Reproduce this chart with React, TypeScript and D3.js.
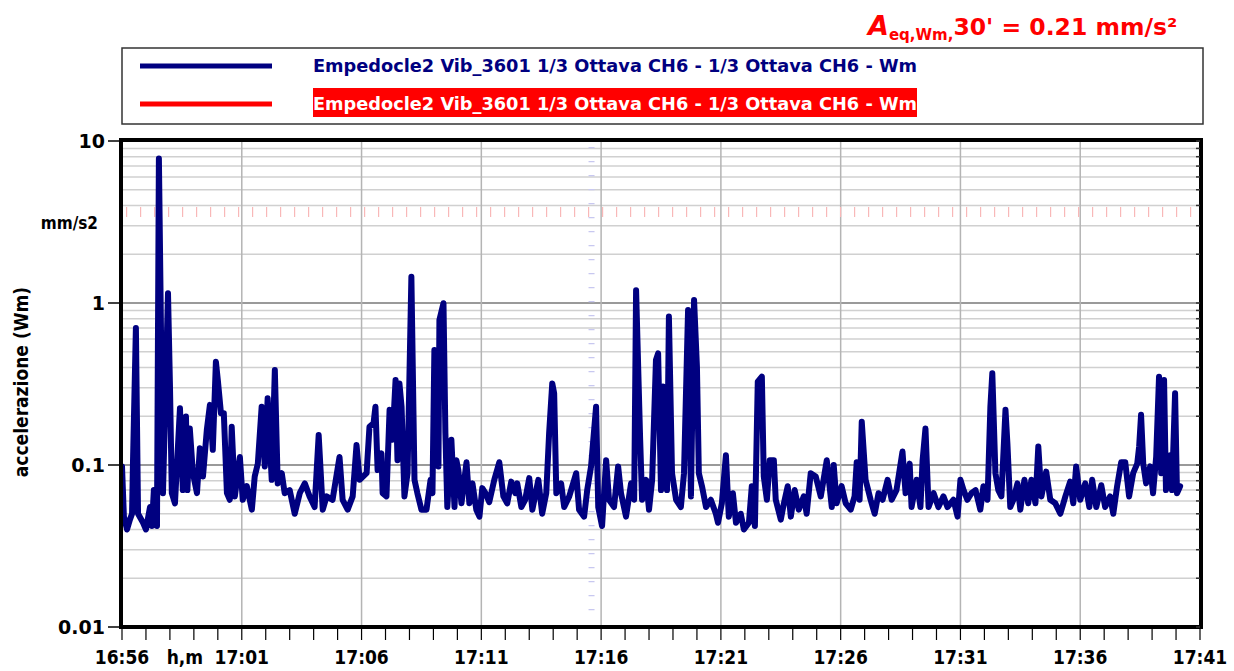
import { useEffect, useRef } from "react";
import * as d3 from "d3";

// minutes elapsed since 16:56
const elapsedMin = [
  0, 0.08, 0.21, 0.33, 0.42, 0.46, 0.58, 0.67, 0.88, 1.0, 1.17, 1.25, 1.33, 1.46, 1.54, 1.71,
  1.92, 2.0, 2.08, 2.21, 2.42, 2.54, 2.67, 2.73, 2.83, 2.96, 3.13, 3.25, 3.38, 3.54, 3.67, 3.79,
  3.92, 4.0, 4.13, 4.25, 4.38, 4.5, 4.58, 4.71, 4.92, 5.04, 5.21, 5.42, 5.54, 5.67, 5.83, 5.96,
  6.08, 6.25, 6.38, 6.5, 6.67, 6.79, 7.0, 7.21, 7.42, 7.63, 7.83, 8.04, 8.21, 8.38, 8.54, 8.79,
  9.08, 9.21, 9.42, 9.63, 9.79, 9.92, 10.21, 10.33, 10.5, 10.58, 10.67, 10.83, 10.88, 11.04,
  11.17, 11.29, 11.42, 11.5, 11.58, 11.67, 11.79, 11.92, 12.08, 12.21, 12.33, 12.5, 12.71,
  12.88, 12.96, 13.04, 13.13, 13.21, 13.25, 13.42, 13.5, 13.58, 13.75, 13.88, 13.96, 14.04,
  14.17, 14.38, 14.5, 14.63, 14.79, 14.92, 15.04, 15.17, 15.33, 15.54, 15.75, 15.92, 16.08,
  16.25, 16.42, 16.5, 16.67, 16.83, 17.0, 17.13, 17.38, 17.54, 17.71, 17.83, 17.96, 18.04,
  18.13, 18.33, 18.46, 18.67, 18.96, 19.08, 19.29, 19.42, 19.58, 19.79, 19.88, 20.04, 20.21,
  20.33, 20.54, 20.71, 20.83, 21.04, 21.25, 21.38, 21.46, 21.63, 21.71, 21.88, 22.0, 22.13,
  22.29, 22.38, 22.5, 22.58, 22.75, 22.83, 22.96, 23.13, 23.33, 23.46, 23.63, 23.75, 23.88,
  24.0, 24.08, 24.21, 24.38, 24.58, 24.79, 24.88, 25.04, 25.21, 25.33, 25.5, 25.63, 25.83,
  25.96, 26.17, 26.29, 26.42, 26.54, 26.71, 26.79, 26.92, 27.04, 27.21, 27.29, 27.5, 27.63,
  27.79, 27.92, 28.08, 28.25, 28.46, 28.58, 28.75, 28.96, 29.17, 29.33, 29.42, 29.63, 29.71,
  29.83, 30.04, 30.21, 30.42, 30.58, 30.67, 30.79, 30.88, 31.04, 31.25, 31.42, 31.58, 31.75,
  31.96, 32.13, 32.33, 32.58, 32.71, 32.88, 32.96, 33.17, 33.33, 33.42, 33.54, 33.67, 33.88,
  34.08, 34.29, 34.46, 34.71, 34.88, 35.0, 35.13, 35.29, 35.46, 35.63, 35.83, 35.96, 36.13,
  36.25, 36.33, 36.46, 36.58, 36.71, 36.88, 36.96, 37.08, 37.21, 37.38, 37.5, 37.67, 37.83,
  37.96, 38.13, 38.25, 38.38, 38.58, 38.75, 38.96, 39.17, 39.38, 39.58, 39.71, 39.83, 40.0,
  40.21, 40.38, 40.5, 40.67, 40.88, 41.04, 41.25, 41.38, 41.54, 41.71, 41.88, 42.04, 42.21,
  42.38, 42.46, 42.54, 42.63, 42.75, 42.92, 43.04, 43.17, 43.29, 43.38, 43.5, 43.58, 43.75,
  43.83, 43.96, 44.04, 44.17,
];

// acceleration, mm/s2 (Wm weighted)
const accel = [
  0.098, 0.048, 0.04, 0.046, 0.05, 0.107, 0.7, 0.05, 0.044, 0.04, 0.055, 0.042, 0.07, 0.042, 7.8, 0.067,
  1.15, 0.32, 0.067, 0.058, 0.224, 0.07, 0.199, 0.07, 0.168, 0.089, 0.067, 0.127, 0.085, 0.164, 0.235, 0.124,
  0.434, 0.335, 0.209, 0.209, 0.067, 0.061, 0.172, 0.064, 0.112, 0.061, 0.074, 0.053, 0.085, 0.102, 0.229, 0.098,
  0.258, 0.081, 0.386, 0.077, 0.089, 0.067, 0.07, 0.05, 0.067, 0.077, 0.064, 0.055, 0.153, 0.053, 0.064, 0.061,
  0.112, 0.061, 0.053, 0.064, 0.133, 0.081, 0.089, 0.172, 0.181, 0.229, 0.093, 0.118, 0.067, 0.064,
  0.219, 0.143, 0.335, 0.107, 0.319, 0.229, 0.064, 0.089, 1.45, 0.081, 0.067, 0.053, 0.053,
  0.081, 0.067, 0.513, 0.489, 0.098, 0.786, 0.996, 0.157, 0.055, 0.143, 0.055, 0.107, 0.093,
  0.058, 0.104, 0.058, 0.077, 0.053, 0.048, 0.072, 0.067, 0.059, 0.081, 0.104, 0.064, 0.058,
  0.079, 0.067, 0.077, 0.055, 0.061, 0.083, 0.053, 0.081, 0.05, 0.067, 0.157, 0.319, 0.277,
  0.067, 0.077, 0.055, 0.064, 0.089, 0.053, 0.048, 0.07, 0.098, 0.229, 0.055, 0.042, 0.107,
  0.061, 0.055, 0.098, 0.067, 0.048, 0.077, 0.061, 1.2, 0.143, 0.061, 0.081, 0.053, 0.081,
  0.445, 0.489, 0.07, 0.305, 0.07, 0.824, 0.089, 0.061, 0.055, 0.089, 0.906, 0.064, 1.045,
  0.404, 0.089, 0.074, 0.055, 0.061, 0.05, 0.044, 0.058, 0.115, 0.048, 0.067, 0.044, 0.05,
  0.04, 0.044, 0.074, 0.042, 0.327, 0.351, 0.085, 0.061, 0.107, 0.107, 0.061, 0.046, 0.058,
  0.074, 0.048, 0.07, 0.053, 0.064, 0.05, 0.089, 0.085, 0.064, 0.089, 0.107, 0.055, 0.1,
  0.058, 0.074, 0.058, 0.053, 0.064, 0.104, 0.061, 0.185, 0.081, 0.061, 0.05, 0.067, 0.061,
  0.081, 0.061, 0.07, 0.121, 0.067, 0.102, 0.055, 0.081, 0.055, 0.107, 0.168, 0.055, 0.067,
  0.055, 0.064, 0.055, 0.061, 0.048, 0.081, 0.07, 0.061, 0.067, 0.07, 0.053, 0.074, 0.061,
  0.229, 0.368, 0.089, 0.07, 0.064, 0.219, 0.136, 0.055, 0.061, 0.077, 0.053, 0.081, 0.058,
  0.081, 0.058, 0.13, 0.064, 0.091, 0.061, 0.058, 0.05, 0.064, 0.079, 0.058, 0.098, 0.061,
  0.077, 0.055, 0.081, 0.055, 0.075, 0.055, 0.064, 0.05, 0.074, 0.104, 0.104, 0.064, 0.089,
  0.102, 0.13, 0.204, 0.102, 0.077, 0.098, 0.067, 0.112, 0.351, 0.089, 0.335, 0.07, 0.115,
  0.07, 0.277, 0.067, 0.074,
];

const yTickValues = [0.01, 0.1, 1, 10];
const yTickLabels = ["0.01", "0.1", "1", "10"];
const thresholdValue = 3.65;
const cursorMin = 19.6;
const seriesLabel = "Empedocle2 Vib_3601 1/3 Ottava CH6 - 1/3 Ottava CH6 - Wm";

const startTime = new Date(2021, 0, 1, 16, 56);
const endTime = new Date(2021, 0, 1, 17, 41);

const FONT = "'DejaVu Sans', sans-serif";
const FONT_C = "'DejaVu Sans Condensed', 'DejaVu Sans', sans-serif";

export default function App() {
  const svgRef = useRef<SVGSVGElement>(null);

  useEffect(() => {
    const svg = d3.select(svgRef.current);
    svg.selectAll("*").remove();

    const width = 1234;
    const height = 671;
    const left = 122;
    const right = 1200;
    const top = 141;
    const bottom = 627;

    svg.attr("width", width).attr("height", height);

    const toDate = (m: number) => new Date(startTime.getTime() + m * 60000);

    const xScale = d3.scaleTime().domain([startTime, endTime]).range([left, right]);
    const yScale = d3.scaleLog().domain([0.01, 10]).range([bottom, top]);

    // legend
    svg.append("rect")
      .attr("x", 122).attr("y", 48).attr("width", 1081).attr("height", 76)
      .attr("fill", "#fff").attr("stroke", "#333").attr("stroke-width", 1.5);

    svg.append("line")
      .attr("x1", 140).attr("x2", 272).attr("y1", 66).attr("y2", 66)
      .attr("stroke", "#000080").attr("stroke-width", 5);
    svg.append("text")
      .attr("x", 313).attr("y", 72)
      .attr("font-family", FONT_C).attr("font-weight", "bold").attr("font-size", 18)
      .attr("fill", "#000080")
      .attr("textLength", 604).attr("lengthAdjust", "spacingAndGlyphs")
      .text(seriesLabel);

    svg.append("line")
      .attr("x1", 140).attr("x2", 272).attr("y1", 104).attr("y2", 104)
      .attr("stroke", "#ff0000").attr("stroke-width", 5);
    svg.append("rect")
      .attr("x", 313).attr("y", 88).attr("width", 604).attr("height", 29)
      .attr("fill", "#ff0000");
    svg.append("text")
      .attr("x", 313).attr("y", 110)
      .attr("font-family", FONT_C).attr("font-weight", "bold").attr("font-size", 18)
      .attr("fill", "#fff")
      .attr("textLength", 604).attr("lengthAdjust", "spacingAndGlyphs")
      .text(seriesLabel);

    // summary annotation
    const ann = svg.append("text")
      .attr("x", 868).attr("y", 35)
      .attr("font-family", FONT).attr("font-weight", "bold")
      .attr("fill", "#ff0000");
    ann.append("tspan").attr("font-size", 27).attr("font-style", "italic").text("A");
    ann.append("tspan").attr("font-size", 15).attr("dy", 5).text("eq,Wm,");
    ann.append("tspan").attr("font-size", 23.5).attr("dy", -5).text("30' = 0.21 mm/s²");

    // grid
    const grid = svg.append("g");
    const logTicks = yScale.ticks();
    grid.selectAll(".hgrid")
      .data(logTicks)
      .join("line")
      .attr("x1", left).attr("x2", right)
      .attr("y1", (d) => yScale(d)).attr("y2", (d) => yScale(d))
      .attr("stroke", (d) => (yTickValues.includes(d) ? "#9a9a9a" : "#d0d0d0"))
      .attr("stroke-width", (d) => (yTickValues.includes(d) ? 2 : 1.5));

    const minuteTicks = xScale.ticks(d3.timeMinute.every(1) as d3.TimeInterval);
    const majorTicks = minuteTicks.filter((_, i) => i % 5 === 0);

    grid.selectAll(".vgrid")
      .data(majorTicks.slice(1, -1))
      .join("line")
      .attr("x1", (d) => xScale(d)).attr("x2", (d) => xScale(d))
      .attr("y1", top).attr("y2", bottom)
      .attr("stroke", "#b4b4b4").attr("stroke-width", 1.5);

    // threshold marks
    const thrY = yScale(thresholdValue);
    svg.append("line")
      .attr("x1", left + 4).attr("x2", right - 4)
      .attr("y1", thrY).attr("y2", thrY)
      .attr("stroke", "#f8b8b8").attr("stroke-width", 10)
      .attr("stroke-dasharray", "1.2 12.8");

    // cursor marks
    const curX = xScale(toDate(cursorMin));
    svg.append("line")
      .attr("x1", curX).attr("x2", curX)
      .attr("y1", top + 6).attr("y2", bottom - 4)
      .attr("stroke", "#c8c8f0").attr("stroke-width", 6)
      .attr("stroke-dasharray", "1.2 12.8");

    // series
    const points = elapsedMin.map((m, i) => ({ t: toDate(m), v: accel[i] }));
    const line = d3.line<{ t: Date; v: number }>()
      .x((d) => xScale(d.t))
      .y((d) => yScale(d.v));

    svg.append("path")
      .datum(points)
      .attr("d", line)
      .attr("fill", "none")
      .attr("stroke", "#000080")
      .attr("stroke-width", 6)
      .attr("stroke-linejoin", "round")
      .attr("stroke-linecap", "round");

    // frame
    svg.append("rect")
      .attr("x", left - 1).attr("y", top - 1)
      .attr("width", right - left + 2).attr("height", bottom - top + 1)
      .attr("fill", "none").attr("stroke", "#000").attr("stroke-width", 4);

    // inner minor ticks on the right side
    svg.selectAll(".rtick")
      .data(logTicks)
      .join("line")
      .attr("x1", right - 4).attr("x2", right)
      .attr("y1", (d) => yScale(d)).attr("y2", (d) => yScale(d))
      .attr("stroke", "#333").attr("stroke-width", 1.5);

    // y axis
    const yAxis = svg.append("g");
    yAxis.selectAll("line")
      .data(yTickValues)
      .join("line")
      .attr("x1", 108).attr("x2", left - 2)
      .attr("y1", (d) => yScale(d)).attr("y2", (d) => yScale(d))
      .attr("stroke", "#000").attr("stroke-width", 1.5);
    yAxis.selectAll("text")
      .data(yTickValues)
      .join("text")
      .attr("x", 105)
      .attr("y", (d) => yScale(d) + 7)
      .attr("text-anchor", "end")
      .attr("font-family", FONT).attr("font-weight", "bold").attr("font-size", 19)
      .text((_, i) => yTickLabels[i]);

    svg.append("text")
      .attr("x", 98).attr("y", 229)
      .attr("text-anchor", "end")
      .attr("font-family", FONT_C).attr("font-weight", "bold").attr("font-size", 17)
      .text("mm/s2");

    svg.append("text")
      .attr("transform", `translate(28, ${(top + bottom) / 2 - 2}) rotate(-90)`)
      .attr("text-anchor", "middle")
      .attr("font-family", FONT_C).attr("font-weight", "bold").attr("font-size", 19)
      .text("accelerazione (Wm)");

    // x axis
    const xAxis = svg.append("g");
    xAxis.selectAll("line")
      .data(minuteTicks)
      .join("line")
      .attr("x1", (d) => xScale(d)).attr("x2", (d) => xScale(d))
      .attr("y1", bottom + 2).attr("y2", bottom + 13)
      .attr("stroke", "#000").attr("stroke-width", 1.2);
    xAxis.selectAll("text")
      .data(majorTicks)
      .join("text")
      .attr("x", (d) => xScale(d))
      .attr("y", 664)
      .attr("text-anchor", "middle")
      .attr("font-family", FONT_C).attr("font-weight", "bold").attr("font-size", 19)
      .text((d) => d3.timeFormat("%H:%M")(d));
    svg.append("text")
      .attr("x", (xScale(majorTicks[0]) + xScale(majorTicks[1])) / 2 + 3)
      .attr("y", 664)
      .attr("text-anchor", "middle")
      .attr("font-family", FONT_C).attr("font-weight", "bold").attr("font-size", 19)
      .text("h,m");
  }, []);

  return (
    <svg
      ref={svgRef}
      style={{ position: "absolute", left: 0, top: 0, background: "#fff" }}
    />
  );
}
